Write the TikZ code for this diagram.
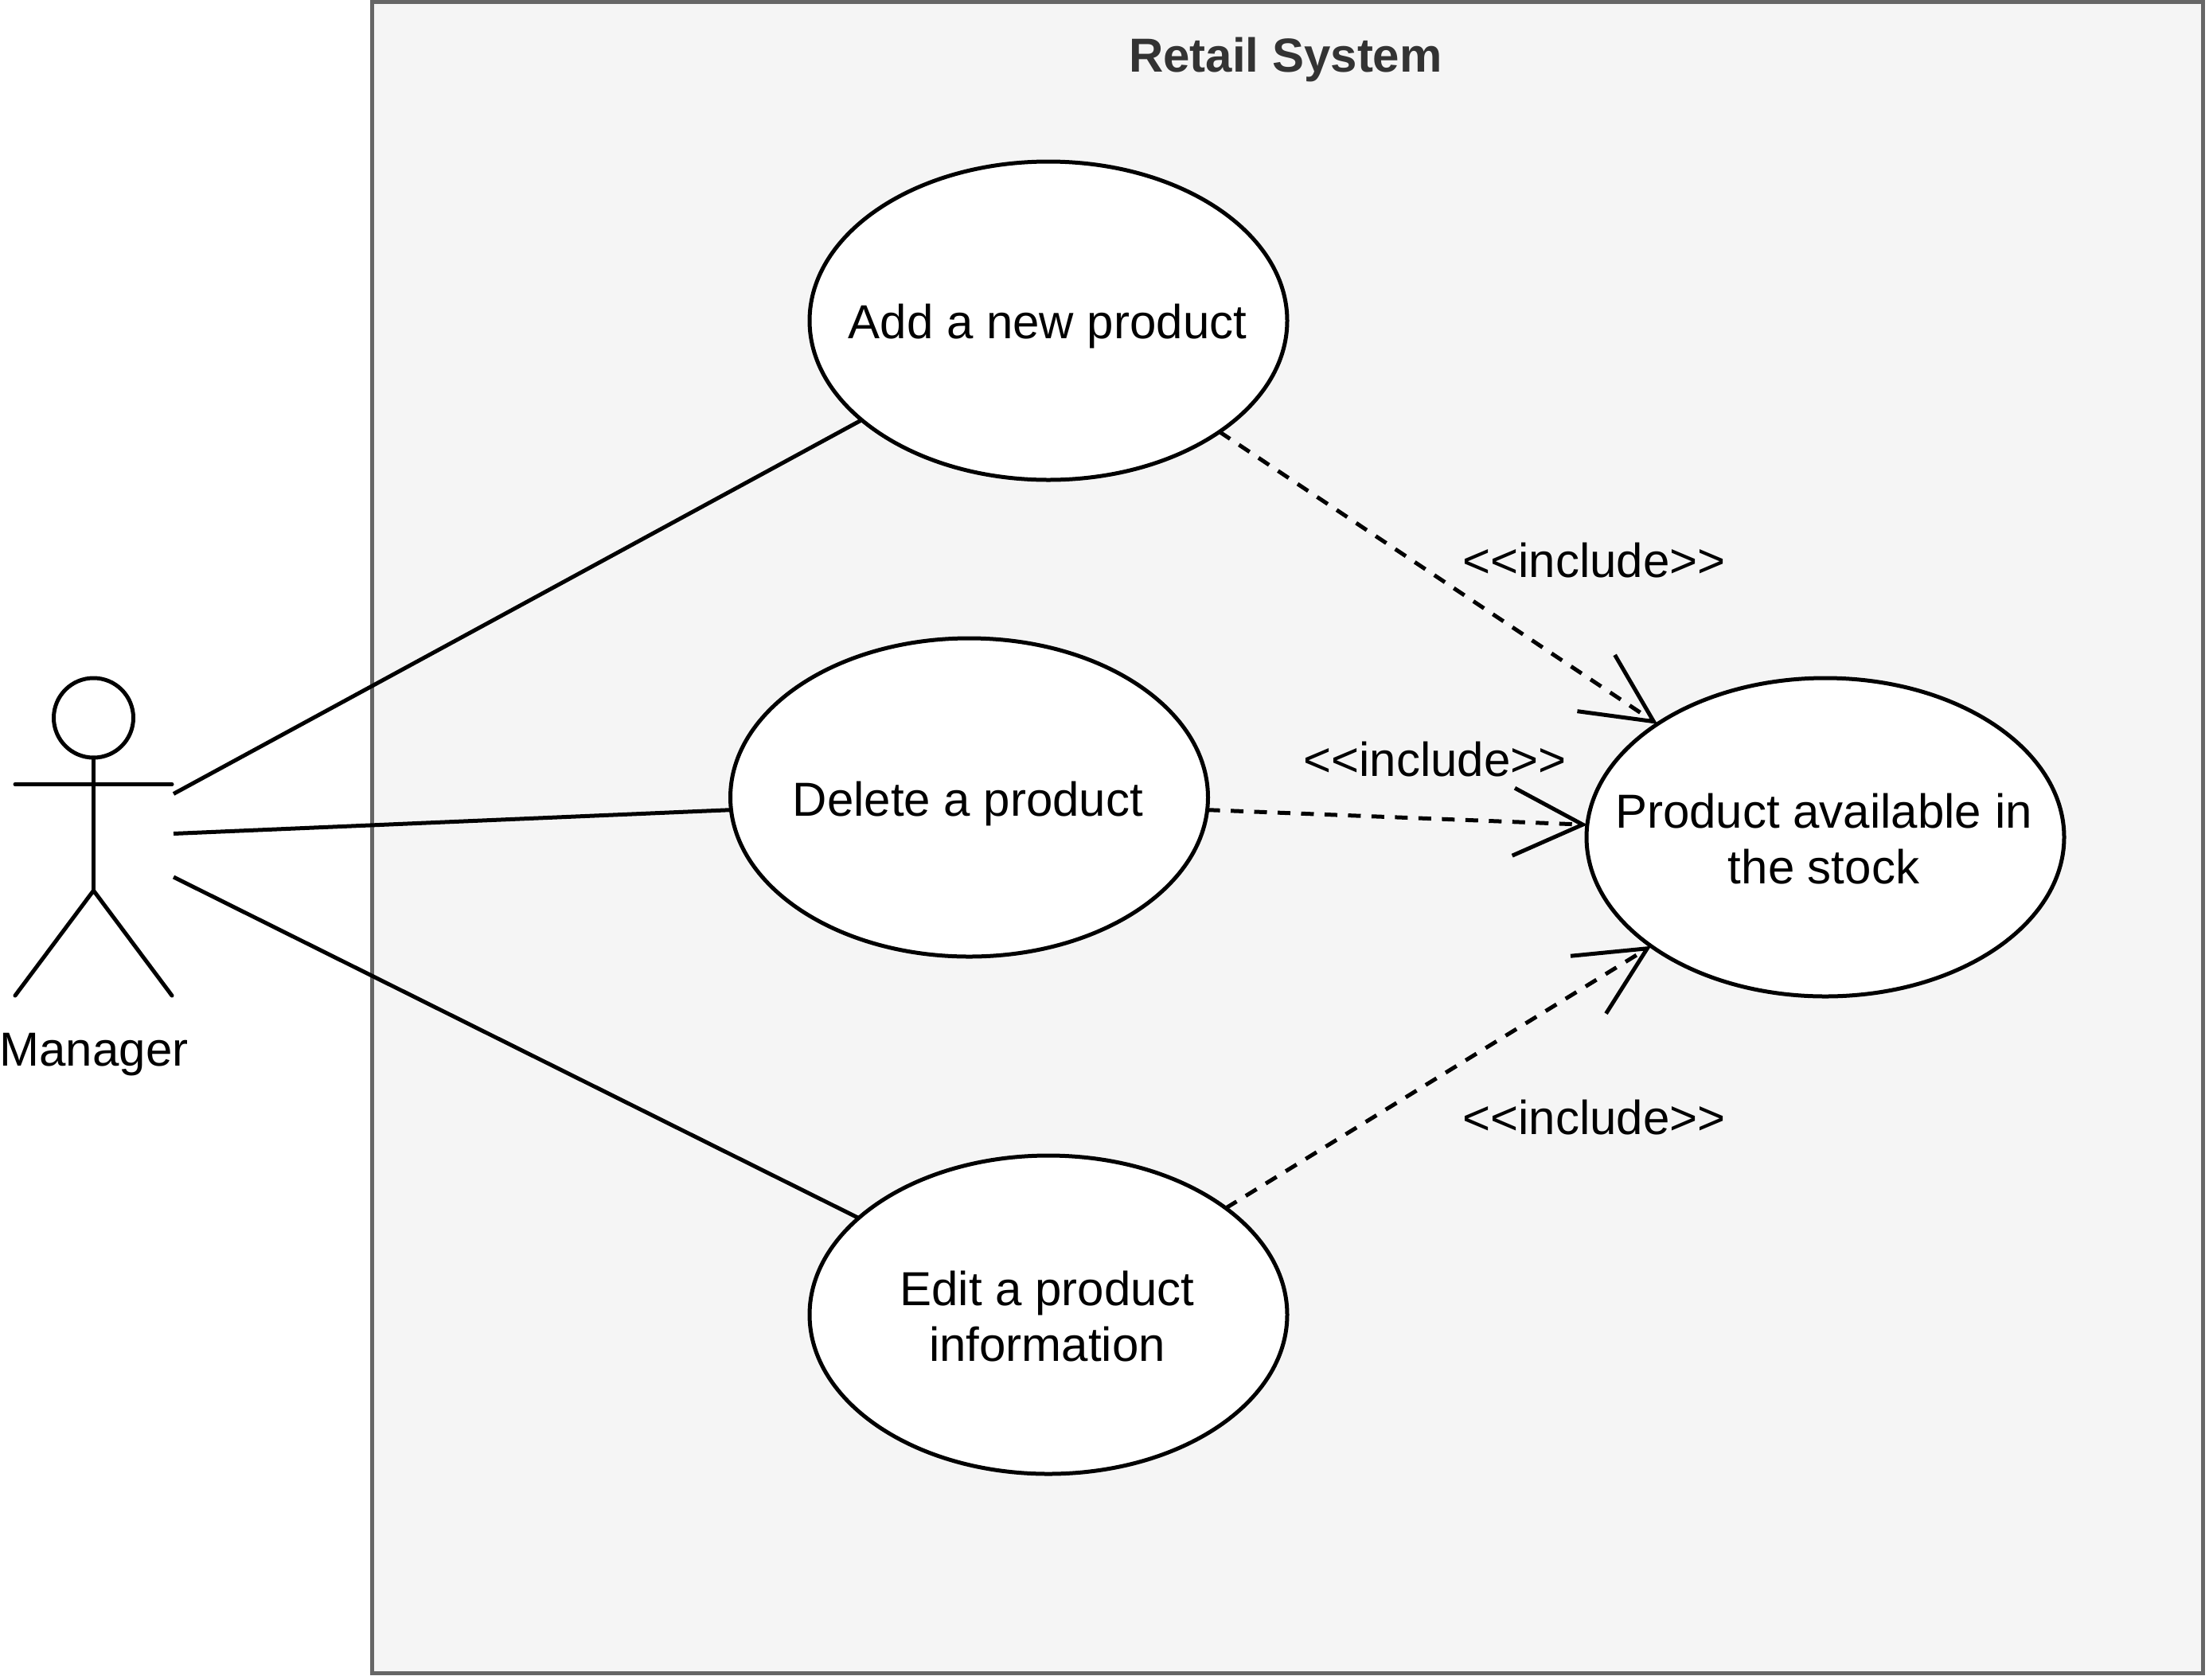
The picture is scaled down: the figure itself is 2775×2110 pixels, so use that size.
\documentclass[tikz,border=0pt]{standalone}
\usepackage{fontspec}
\setmainfont{Liberation Sans}
\usetikzlibrary{shapes.geometric,arrows.meta}
\definecolor{framefill}{HTML}{F5F5F5}
\definecolor{framestroke}{HTML}{666666}
\definecolor{titlecol}{HTML}{333333}
\tikzset{
  usecase/.style={ellipse,draw=black,fill=white,line width=5pt,minimum width=600pt,minimum height=400pt,inner sep=0pt,outer sep=0pt},
  label/.style={inner sep=0pt,outer sep=0pt,align=center},
  assoc/.style={line width=5pt,draw=black},
  incl/.style={line width=5pt,draw=black,dash pattern=on 16pt off 13.5pt,-{Straight Barb[length=87pt,width=85pt,line width=5pt]}},
  limb/.style={line width=5pt,draw=black,line cap=round}
}
\begin{document}
\begin{tikzpicture}[x=1pt,y=-1pt,font=\fontsize{60}{70}\selectfont]
\useasboundingbox (0,0) rectangle (2775,2110);
\node[draw=framestroke,fill=framefill,line width=5pt,rectangle,minimum width=2300pt,minimum height=2100pt,inner sep=0pt,outer sep=0pt] (frame) at (1617.5,1052.5) {};
\node[label,text=titlecol,font=\fontsize{60}{70}\selectfont\bfseries] (title) at (1615,75) {Retail System};

\node[usecase] (add) at (1317,403) {};
\node[usecase] (del) at (1217.5,1002) {};
\node[usecase] (edit) at (1317,1652) {};
\node[usecase] (stock) at (2293,1052) {};
\node[label] (addtext) at (1316,410) {Add a new product};
\node[label] (deltext) at (1216,1010) {Delete a product};
\node[label] (edittext) at (1315.5,1654) {Edit a product\\information};
\node[label] (stocktext) at (2291,1054) {Product available in\\the stock};

% actor
\node[circle,draw=black,fill=white,line width=5pt,minimum size=100pt,inner sep=0pt,outer sep=0pt] (head) at (117.5,902) {};
\coordinate (hip) at (117.5,1119);
\coordinate (armL) at (19,985.5);
\coordinate (armR) at (216,985.5);
\coordinate (footL) at (19,1251);
\coordinate (footR) at (216,1251);
\draw[limb] (head.south) -- (hip);
\draw[limb] (armL) -- (armR);
\draw[limb] (footL) -- (hip) -- (footR);
\node[label] (manager) at (118,1325) {Manager};

\coordinate (m1) at (218,997.5);
\coordinate (m2) at (218,1047.5);
\coordinate (m3) at (218,1102);
\draw[assoc] (m1) -- (add.208);
\draw[assoc] (m2) -- (del.183.6);
\draw[assoc] (m3) -- (edit.153.3);

\draw[incl] (add.-33.7) -- (stock.146.7);
\draw[incl] (del.-3.6) -- (stock.177.1);
\draw[incl] (edit.31.6) -- (stock.212.1);

\node[label] (l1) at (2002.5,704) {<{}<include>{}>};
\node[label] (l2) at (1802.5,954) {<{}<include>{}>};
\node[label] (l3) at (2002.5,1404) {<{}<include>{}>};
\end{tikzpicture}
\end{document}
